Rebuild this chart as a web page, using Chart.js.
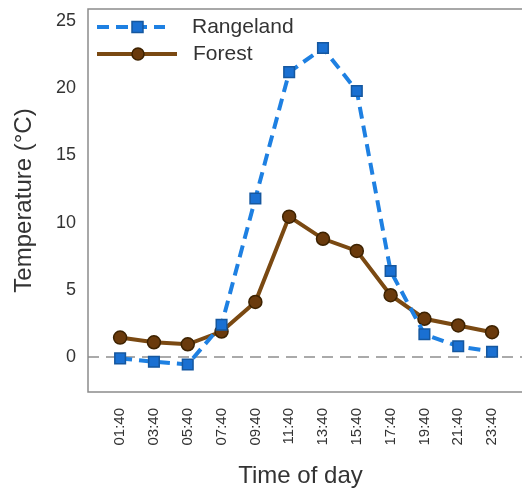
<!DOCTYPE html>
<html>
<head>
<meta charset="utf-8">
<script src="https://cdn.jsdelivr.net/npm/chart.js@4.4.1/dist/chart.umd.min.js"></script>
<style>
  html, body { margin: 0; padding: 0; background: #fff; overflow: hidden; }
  #wrap { width: 522px; height: 491px; }
</style>
</head>
<body>
<div id="wrap"><canvas id="myChart"></canvas></div>
<script>
const times = ["01:40", "03:40", "05:40", "07:40", "09:40", "11:40", "13:40", "15:40", "17:40", "19:40", "21:40", "23:40"];
const rangeland = [-0.1, -0.35, -0.55, 2.4, 11.8, 21.2, 23.0, 19.8, 6.4, 1.7, 0.8, 0.4];
const forest = [1.45, 1.1, 0.95, 1.9, 4.1, 10.45, 8.8, 7.9, 4.6, 2.85, 2.35, 1.85];
const yTicks = [0, 5, 10, 15, 20, 25];

const ctx = document.getElementById("myChart");
const FONT = "'Liberation Sans', Arial, sans-serif";

const toPoints = (arr) => arr.map((v, i) => ({ x: i, y: v }));

// frame, zero line and legend drawn R-style
const decor = {
  id: "decor",
  beforeDatasetsDraw: (chart) => {
    const { ctx, chartArea: a, scales } = chart;
    const y0 = scales.y.getPixelForValue(0);
    ctx.save();
    ctx.strokeStyle = "#aaaaaa";
    ctx.lineWidth = 2;
    ctx.setLineDash([11, 7]);
    ctx.beginPath();
    ctx.moveTo(a.left, y0);
    ctx.lineTo(chart.width, y0);
    ctx.stroke();
    ctx.restore();
  },
  afterDraw: (chart) => {
    const { ctx, chartArea: a } = chart;
    ctx.save();
    ctx.strokeStyle = "#8c8c8c";
    ctx.lineWidth = 1.5;
    ctx.beginPath();
    ctx.moveTo(chart.width, a.top);
    ctx.lineTo(a.left, a.top);
    ctx.lineTo(a.left, a.bottom);
    ctx.lineTo(chart.width, a.bottom);
    ctx.stroke();

    // legend
    const items = [
      { ds: chart.data.datasets[0], y: 27, x1: 97, x2: 165, tx: 192 },
      { ds: chart.data.datasets[1], y: 54, x1: 97, x2: 177, tx: 193 },
    ];
    items.forEach((it) => {
      const ds = it.ds;
      ctx.strokeStyle = ds.borderColor;
      ctx.lineWidth = ds.borderWidth;
      ctx.setLineDash(ds.borderDash || []);
      ctx.beginPath();
      ctx.moveTo(it.x1, it.y);
      ctx.lineTo(it.x2, it.y);
      ctx.stroke();
      ctx.setLineDash([]);
      ctx.fillStyle = ds.pointBackgroundColor;
      ctx.strokeStyle = ds.pointBorderColor;
      ctx.lineWidth = 1.5;
      ctx.beginPath();
      if (ds.pointStyle === "rect") {
        ctx.rect(132, it.y - 5.5, 11, 11);
      } else {
        ctx.arc(138, it.y, 6, 0, Math.PI * 2);
      }
      ctx.fill();
      ctx.stroke();
      ctx.fillStyle = "#333333";
      ctx.font = "21px " + FONT;
      ctx.textBaseline = "middle";
      ctx.fillText(ds.label, it.tx, it.y);
    });
    ctx.restore();
  },
};

new Chart(ctx, {
  type: "line",
  data: {
    datasets: [
      {
        label: "Rangeland",
        data: toPoints(rangeland),
        borderColor: "#1e80e2",
        borderWidth: 4,
        borderDash: [12, 7],
        pointStyle: "rect",
        pointRadius: 7.5,
        pointBackgroundColor: "#1a70d2",
        pointBorderColor: "#15579f",
        pointBorderWidth: 1.5,
        tension: 0,
        clip: false,
      },
      {
        label: "Forest",
        data: toPoints(forest),
        borderColor: "#7a4912",
        borderWidth: 4,
        pointStyle: "circle",
        pointRadius: 6.5,
        pointBackgroundColor: "#6a3a0c",
        pointBorderColor: "#3d2200",
        pointBorderWidth: 1.5,
        tension: 0,
        clip: false,
      },
    ],
  },
  options: {
    responsive: true,
    maintainAspectRatio: false,
    animation: false,
    layout: { padding: { top: 7, right: 0, left: 0, bottom: 0 } },
    plugins: {
      legend: { display: false },
      tooltip: { enabled: false },
    },
    scales: {
      x: {
        type: "linear",
        min: -0.95,
        max: 11.62,
        afterBuildTicks: (axis) => {
          axis.ticks = times.map((t, i) => ({ value: i }));
        },
        afterFit: (axis) => {
          axis.height = 99;
          axis.paddingLeft = 0;
          axis.paddingRight = 0;
        },
        grid: { display: false, drawTicks: true, tickLength: 6, tickColor: "#8c8c8c" },
        border: { display: false },
        ticks: {
          autoSkip: false,
          minRotation: 90,
          maxRotation: 90,
          padding: 10,
          color: "#333333",
          font: { family: FONT, size: 15 },
          callback: (v) => times[v],
        },
        title: {
          display: true,
          text: "Time of day",
          color: "#333333",
          font: { family: FONT, size: 24 },
          padding: { top: 0, bottom: 0 },
        },
      },
      y: {
        min: -2.6,
        max: 25.9,
        afterBuildTicks: (axis) => {
          axis.ticks = yTicks.map((v) => ({ value: v }));
        },
        afterFit: (axis) => {
          axis.width = 88;
          axis.paddingTop = 0;
          axis.paddingBottom = 0;
        },
        grid: { display: false, drawTicks: true, tickLength: 6, tickColor: "#8c8c8c" },
        border: { display: false },
        ticks: {
          padding: 6,
          color: "#333333",
          font: { family: FONT, size: 18 },
        },
        title: {
          display: true,
          text: "Temperature (°C)",
          color: "#333333",
          font: { family: FONT, size: 24 },
          padding: { top: 10, bottom: 0 },
        },
      },
    },
  },
  plugins: [decor],
});
</script>
</body>
</html>
